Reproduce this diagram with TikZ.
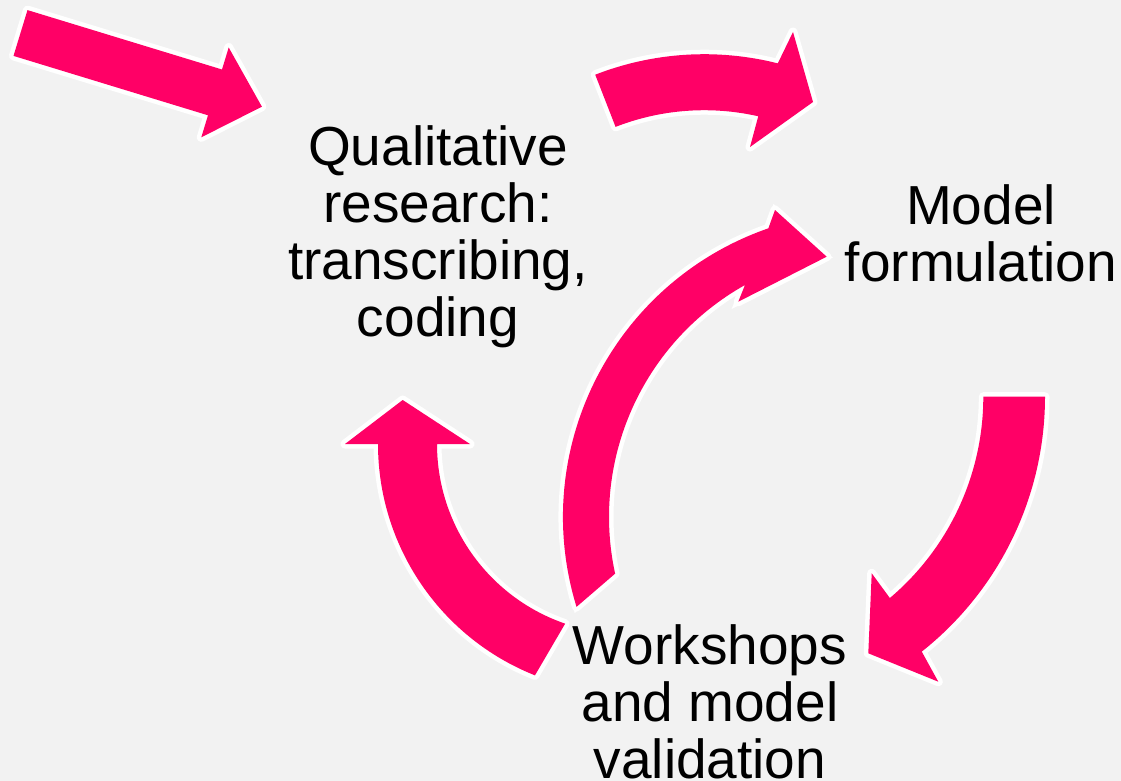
\documentclass[tikz,border=0pt]{standalone}
\usepackage{fontspec}
\setmainfont{Liberation Sans}
\usetikzlibrary{calc}
\definecolor{cyclepink}{HTML}{FF0066}
\definecolor{slidegray}{HTML}{F2F2F2}

\begin{document}
\begin{tikzpicture}[x=1pt, y=-1pt,
		blockarrow/.style={fill=cyclepink, preaction={draw=white, line width=9pt, line join=round}},
		stage/.style={anchor=north, inner sep=0pt, align=center, font=\fontsize{55}{57}\selectfont}]
		\path[fill=slidegray, use as bounding box] (0, 0) rectangle (1121, 781);

		\coordinate (c2) at (704.2, 354.2);
		\coordinate (c3o) at (868.6, 517);
		\coordinate (c3i) at (874.9, 517);
		\coordinate (c4) at (627, 444);
		\coordinate (c5) at (719.7, 396.7);

		\path[blockarrow] (27.5, 10.1) -- (222, 69.5) -- (228.7, 47.5) -- (261.9, 106.7) -- (201.3, 137.3) -- (208, 115.3) -- (13.5, 55.9) -- cycle;

		\path[blockarrow] ($(c2)+(248.7:300)$) arc[start angle=248.7, end angle=284.2, radius=300] -- (793, 32) -- (813, 102) -- (750, 147) -- ($(c2)+(282.8:244)$) arc[start angle=282.8, end angle=248.7, radius=244] -- cycle;

		\path[blockarrow, preaction={draw=white, line width=7pt}] ($(c3o)+(162.9:305.6)$) arc[start angle=162.9, end angle=250.85, radius=305.6] -- (775, 210) -- (826.7, 256.7) -- (738.3, 301.7) -- ($(c3i)+(240.75:265.9)$) arc[start angle=240.75, end angle=167.7, radius=265.9] -- cycle;

		\path[blockarrow] ($(c4)+(111.7:249)$) arc[start angle=111.7, end angle=180, radius=249] -- (345, 444) -- (402.7, 400) -- (470, 444) -- ($(c4)+(180:190)$) arc[start angle=180, end angle=109, radius=190] -- cycle;

		\path[blockarrow] ($(c5)+(0:325.3)$) arc[start angle=0, end angle=51.6, radius=325.3] -- (938.3, 681.7) -- (868.3, 653.3) -- (871.7, 573.3) -- ($(c5)+(49.8:263.6)$) arc[start angle=49.8, end angle=0, radius=263.6] -- cycle;

		\node[stage] (qual) at (438, 125) {Qualitative\\research:\\transcribing,\\coding};
		\node[stage] (model) at (981, 184.5) {Model\\formulation};
		\node[stage] (work) at (710, 624) {Workshops\\and model\\validation};
	\end{tikzpicture}
\end{document}
